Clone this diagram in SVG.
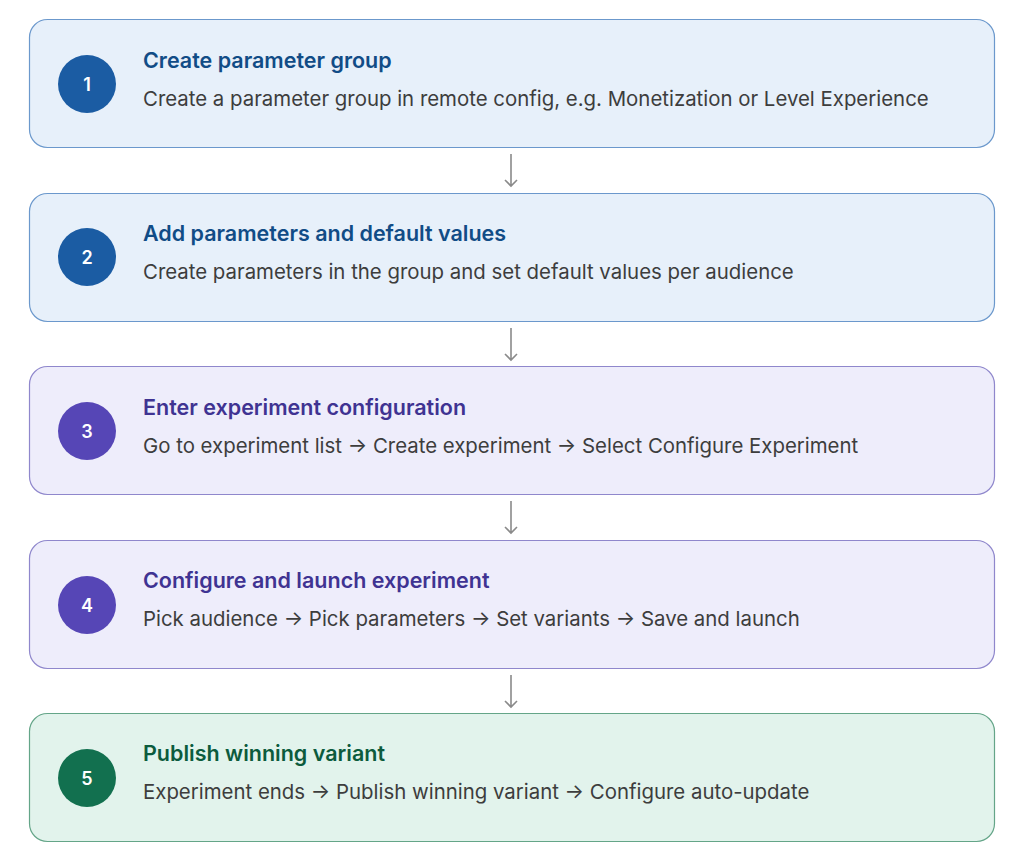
<svg xmlns="http://www.w3.org/2000/svg" width="1024" height="864" viewBox="0 0 1024 864">
<style>
.box{stroke-width:1.2}
.b{fill:#e7f0fa;stroke:#6b98cc}.p{fill:#eeedfb;stroke:#8f87cc}.g{fill:#e2f3ec;stroke:#64a588}
.cb{fill:#1b5ca3}.cp{fill:#5646b6}.cg{fill:#12704f}
.num{font-family:Inter,"Liberation Sans",sans-serif;font-size:18px;font-weight:600;fill:#fff;text-anchor:middle}
.t{font-family:Inter,"Liberation Sans",sans-serif;font-size:21.5px;font-weight:600}
.tb{fill:#114c86}.tp{fill:#3f3392}.tg{fill:#0c5b3d}
.d{font-family:Inter,"Liberation Sans",sans-serif;font-size:20.4px;fill:#3d3d3d}
.c{stroke:#8a8a8a;stroke-width:1.6;fill:none}
</style>
<g id="connectors">
<path class="c" d="M511 154V186M505 180L511 186L517 180"/>
<path class="c" d="M511 328V360M505 354L511 360L517 354"/>
<path class="c" d="M511 501V533M505 527L511 533L517 527"/>
<path class="c" d="M511 675V707M505 701L511 707L517 701"/>
</g>
<g id="n1"><rect class="box b" x="29.5" y="19.5" width="965" height="128" rx="18"/><circle class="cb" cx="87" cy="84" r="29"/><text class="num" x="87" y="90.5">1</text><text class="t tb" x="143" y="68">Create parameter group</text><text class="d" x="143" y="106">Create a parameter group in remote config, e.g. Monetization or Level Experience</text></g>
<g id="n2"><rect class="box b" x="29.5" y="193.5" width="965" height="128" rx="18"/><circle class="cb" cx="87" cy="257" r="29"/><text class="num" x="87" y="263.5">2</text><text class="t tb" x="143" y="241">Add parameters and default values</text><text class="d" x="143" y="279">Create parameters in the group and set default values per audience</text></g>
<g id="n3"><rect class="box p" x="29.5" y="366.5" width="965" height="128" rx="18"/><circle class="cp" cx="87" cy="431" r="29"/><text class="num" x="87" y="437.5">3</text><text class="t tp" x="143" y="415">Enter experiment configuration</text><text class="d" x="143" y="453">Go to experiment list → Create experiment → Select Configure Experiment</text></g>
<g id="n4"><rect class="box p" x="29.5" y="540.5" width="965" height="128" rx="18"/><circle class="cp" cx="87" cy="605" r="29"/><text class="num" x="87" y="611.5">4</text><text class="t tp" x="143" y="588">Configure and launch experiment</text><text class="d" x="143" y="626">Pick audience → Pick parameters → Set variants → Save and launch</text></g>
<g id="n5"><rect class="box g" x="29.5" y="713.5" width="965" height="128" rx="18"/><circle class="cg" cx="87" cy="778" r="29"/><text class="num" x="87" y="784.5">5</text><text class="t tg" x="143" y="761">Publish winning variant</text><text class="d" x="143" y="799">Experiment ends → Publish winning variant → Configure auto-update</text></g>
</svg>
